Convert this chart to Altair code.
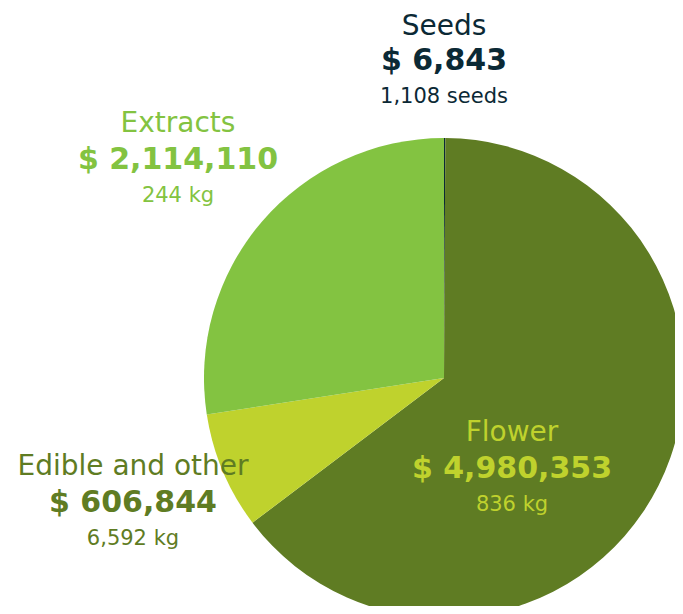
import altair as alt
import pandas as pd

categories = ["Seeds", "Flower", "Edible and other", "Extracts"]
values = [6843, 4980353, 606844, 2114110]
amount_labels = ["$ 6,843", "$ 4,980,353", "$ 606,844", "$ 2,114,110"]
sub_labels = ["1,108 seeds", "836 kg", "6,592 kg", "244 kg"]
slice_colors = ["#0b2935", "#5f7c23", "#bfd22d", "#83c341"]
text_colors = ["#0b2935", "#bfd22d", "#5f7c23", "#83c341"]

df = pd.DataFrame({
    "category": categories,
    "value": values,
    "order": list(range(len(categories))),
})

W, H = 667, 598
CX, CY, R = 436, 370, 240

pie = alt.Chart(df).mark_arc(radius=R, stroke=None).encode(
    theta=alt.Theta("value:Q", stack=True),
    order=alt.Order("order:Q"),
    color=alt.Color("category:N", scale=alt.Scale(domain=categories, range=slice_colors), legend=None),
    x=alt.value(CX),
    y=alt.value(CY),
)

# label anchor (x center, y of the middle line) per category -- layout only
label_pos = {
    "Seeds": (436, 53),
    "Flower": (504, 461),
    "Edible and other": (125, 495),
    "Extracts": (170, 152),
}

FONT = "DejaVu Sans"
layers = [pie]
for i, cat in enumerate(categories):
    lx, ly = label_pos[cat]
    gap = 34 if cat == "Seeds" else 36
    row = pd.DataFrame({"name": [cat], "amount": [amount_labels[i]], "sub": [sub_labels[i]]})
    base = alt.Chart(row)
    layers.append(base.mark_text(font=FONT, fontSize=28, fontWeight="normal", color=text_colors[i],
                                 align="center", baseline="middle").encode(
        text="name:N", x=alt.value(lx), y=alt.value(ly - gap)))
    layers.append(base.mark_text(font=FONT, fontSize=30, fontWeight="bold", color=text_colors[i],
                                 align="center", baseline="middle").encode(
        text="amount:N", x=alt.value(lx), y=alt.value(ly)))
    layers.append(base.mark_text(font=FONT, fontSize=21, fontWeight="normal", color=text_colors[i],
                                 align="center", baseline="middle").encode(
        text="sub:N", x=alt.value(lx), y=alt.value(ly + 36)))

chart = alt.layer(*layers).properties(
    width=W, height=H, padding=0,
    autosize=alt.AutoSizeParams(type="none"),
).configure_view(stroke=None)

chart.save("out.html", embed_options={"renderer": "svg", "actions": False})
